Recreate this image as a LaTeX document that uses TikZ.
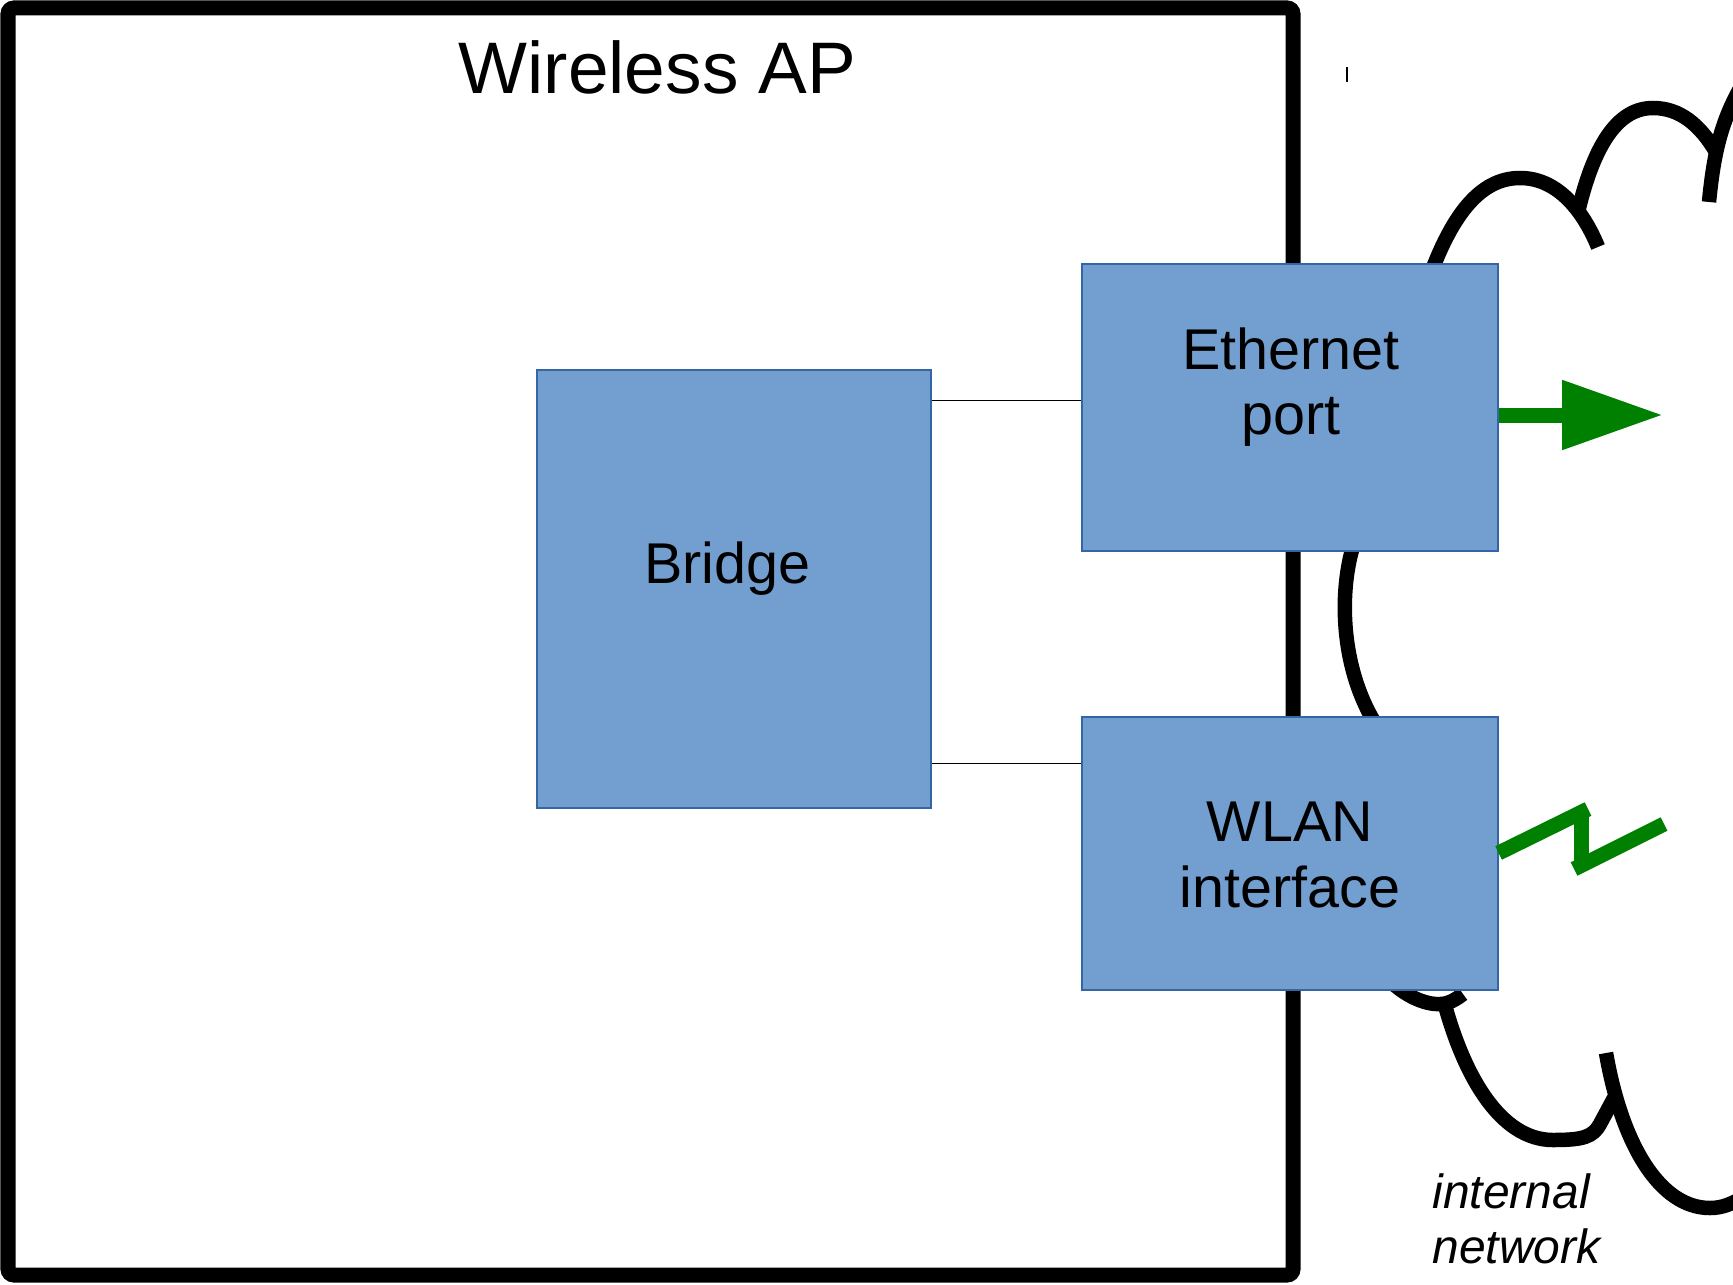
\documentclass[tikz,border=0pt]{standalone}
\usepackage{fontspec}
\setmainfont{Liberation Sans}
\usetikzlibrary{arrows.meta}
\definecolor{boxfill}{HTML}{729FCF}
\definecolor{boxline}{HTML}{3465A4}
\definecolor{netgreen}{RGB}{0,128,0}
\begin{document}
\begin{tikzpicture}[x=0.5pt,y=-0.5pt,
  apframe/.style={draw=black,line width=7.5pt,rounded corners=3pt,inner sep=0pt,
    minimum width=642.5pt,minimum height=633.5pt},
  blockbox/.style={draw=boxline,fill=boxfill,line width=0.6pt,inner sep=0pt},
  blocktext/.style={font=\fontsize{28.75}{32}\selectfont,inner sep=0pt,anchor=base},
  cloudline/.style={draw=black,line width=7.25pt,line cap=butt},
  greenline/.style={draw=netgreen,line width=7.5pt,line cap=butt},
  wire/.style={draw=black,line width=0.5pt}]
\useasboundingbox (0,0) rectangle (1733,1284);
\fill[white] (0,0) rectangle (1733,1284);
% outer frame
\node[apframe] (ap) at (650.5,641.5) {};
\node[font=\fontsize{36.5}{40}\selectfont,inner sep=0pt,anchor=base] (title) at (657.5,94) {Wireless AP};
% small tick
\draw[line width=1pt] (1347,67) -- (1347,82);
% cloud
\draw[cloudline] (1425,290) .. controls (1450,215) and (1480,178) .. (1520,178)
  .. controls (1560,178) and (1585,215) .. (1598,247);
\draw[cloudline] (1578,212) .. controls (1595,140) and (1620,108) .. (1653,108)
  .. controls (1680,108) and (1700,125) .. (1716,152);
\draw[cloudline] (1709,202) .. controls (1714,150) and (1722,118) .. (1745,80);
\draw[cloudline] (1355,540) .. controls (1338,590) and (1340,670) .. (1378,728);
\draw[cloudline] (1380,970) .. controls (1400,995) and (1425,1005) .. (1440,1004)
  .. controls (1448,1004) and (1455,1000) .. (1463,994);
\draw[cloudline] (1443,998) .. controls (1463,1075) and (1500,1140) .. (1553,1140)
  .. controls (1583,1140) and (1593,1137) .. (1600,1124) -- (1614,1098);
\draw[cloudline] (1606,1053) .. controls (1622,1145) and (1660,1208) .. (1710,1208)
  .. controls (1722,1208) and (1732,1204) .. (1745,1196);
\node[font=\fontsize{24}{27.5}\selectfont\itshape,inner sep=0pt,anchor=base west] (net1) at (1432,1208) {internal};
\node[font=\fontsize{24}{27.5}\selectfont\itshape,inner sep=0pt,anchor=base west] (net2) at (1432,1263) {network};
% blocks
\node[blockbox,minimum width=197pt,minimum height=219pt] (bridge) at (734,589) {};
\node[blocktext] (bridgetext) at (727.5,583) {Bridge};
\node[blockbox,minimum width=208pt,minimum height=143.5pt] (eth) at (1290,407.5) {};
\node[blocktext] (ethtext1) at (1291,369) {Ethernet};
\node[blocktext] (ethtext2) at (1291,434) {port};
\node[blockbox,minimum width=208pt,minimum height=136.5pt] (wlan) at (1290,853.5) {};
\node[blocktext] (wlantext1) at (1290,841) {WLAN};
\node[blocktext] (wlantext2) at (1290,907) {interface};
% wires
\draw[wire] (bridge.east |- 0,400) -- (eth.west |- 0,400);
\draw[wire] (bridge.east |- 0,763) -- (wlan.west |- 0,763);
% ethernet arrow
\coordinate (ethtip) at (1663,415);
\draw[greenline,-{Triangle[length=50.5pt,width=33pt]},netgreen] (eth.east |- ethtip) -- (ethtip);
% wireless zigzag
\coordinate (z1) at (1588,809);
\coordinate (z2) at (1581,812);
\coordinate (z3) at (1581,866);
\coordinate (z4) at (1574,869);
\coordinate (z5) at (1664,824);
\draw[greenline] (wlan.east |- 0,853) -- (z1);
\draw[greenline] (z2) -- (z3);
\draw[greenline] (z4) -- (z5);
\end{tikzpicture}
\end{document}
